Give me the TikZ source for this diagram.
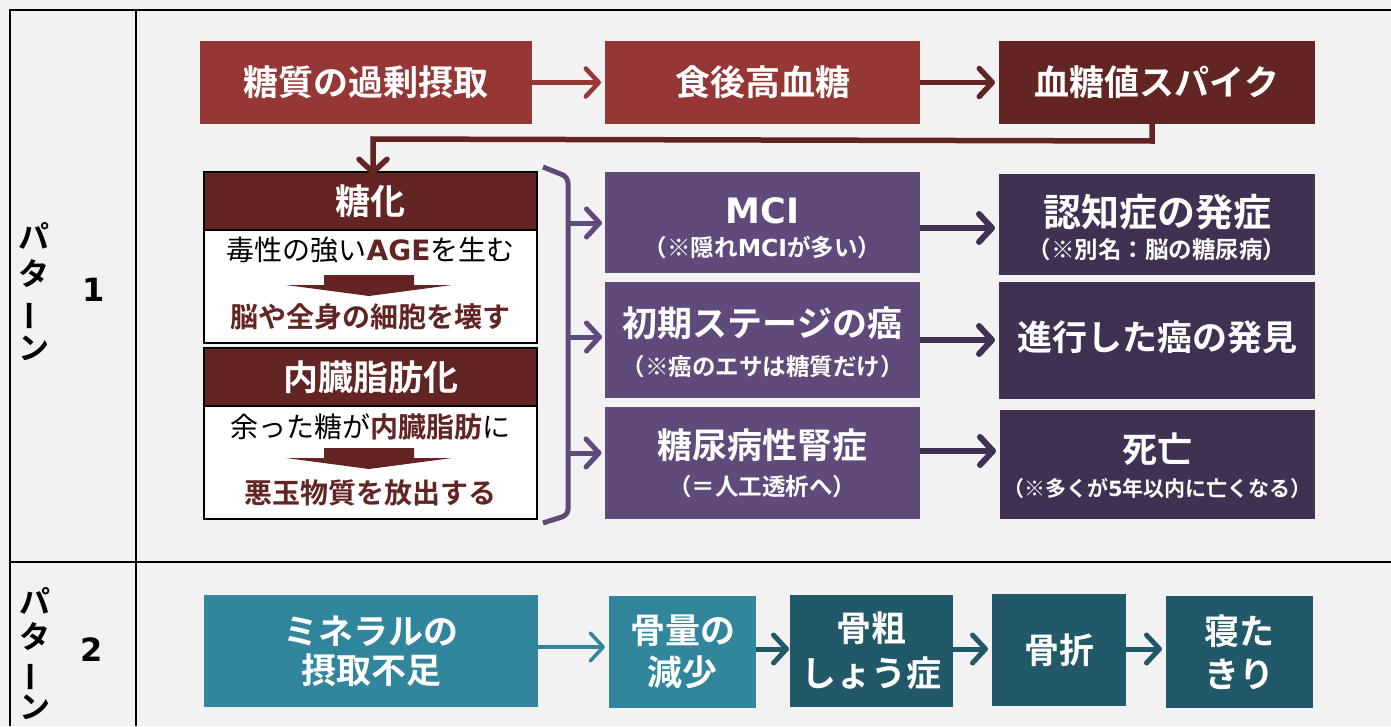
\documentclass[tikz,border=0pt]{standalone}
\usepackage{fontspec}
\usepackage{graphicx}
\setmainfont{Noto Sans CJK JP}[BoldFont={Noto Sans CJK JP Bold}]
\newfontfamily\lat{DejaVu Sans}[BoldFont={DejaVu Sans Bold}]
\usetikzlibrary{arrows.meta}
\definecolor{bgc}{HTML}{F2F2F2}
\definecolor{redA}{HTML}{953735}
\definecolor{redB}{HTML}{632523}
\definecolor{purA}{HTML}{604A7B}
\definecolor{purB}{HTML}{403152}
\definecolor{tealA}{HTML}{31859C}
\definecolor{tealB}{HTML}{215968}
\begin{document}
\begin{tikzpicture}[x=1pt,y=-1pt,
  box/.style={inner sep=0pt, outer sep=0pt, text=white, align=center},
  ttl/.style={font=\fontsize{35}{42}\selectfont\bfseries, text=white, inner sep=0pt, align=center},
  subt/.style={font=\fontsize{23.5}{28}\selectfont\bfseries, text=white, inner sep=0pt},
  body/.style={font=\fontsize{28}{32}\selectfont, text=black, inner sep=0pt},
  bodyred/.style={font=\fontsize{28}{32}\selectfont\bfseries, text=redB, inner sep=0pt},
  plabel/.style={font=\fontsize{31}{36}\selectfont\bfseries, text=black, inner sep=0pt, align=center},
  barb/.style={line width=#1, -{Straight Barb[length=13pt,width=28pt,round,line width=#1]}},
  tbl/.style={draw=black, line width=2.5pt}
]
\useasboundingbox[fill=bgc] (0,0) rectangle (1391,726);

% table lines
\draw[tbl] (1391,10) -- (10,10) -- (10,726);
\draw[tbl] (136,10) -- (136,726);
\draw[tbl] (10,562) -- (1391,562);

% pattern labels
\node[plabel, font=\fontsize{31}{37}\selectfont\bfseries] (pl1) at (34,292) {パ\\タ\\\rotatebox[origin=c]{90}{ー}\\ン};
\node[plabel, font=\fontsize{32}{36}\lat\bfseries] (pn1) at (94,290) {1};
\node[plabel, font=\fontsize{31}{35}\selectfont\bfseries] (pl2) at (35,654) {パ\\タ\\\rotatebox[origin=c]{90}{ー}\\ン};
\node[plabel, font=\fontsize{32}{36}\lat\bfseries] (pn2) at (92,650) {2};

% top row
\node[box, fill=redA, minimum width=332pt, minimum height=83pt, font=\fontsize{35}{42}\selectfont\bfseries] (b1) at (366,82.5) {糖質の過剰摂取};
\node[box, fill=redA, minimum width=315pt, minimum height=83pt, font=\fontsize{35}{42}\selectfont\bfseries] (b2) at (762.5,82.5) {食後高血糖};
\node[box, fill=redB, minimum width=316pt, minimum height=83pt, font=\fontsize{35}{42}\selectfont\bfseries] (b3) at (1157,82.5) {血糖値スパイク};
\draw[barb=4.5pt, draw=redA] (b1.east) -- ([xshift=-4pt]b2.west);
\draw[barb=5.5pt, draw=redB] (b2.east) -- ([xshift=-4pt]b3.west);

% left blocks
\node[box, fill=redB, draw=black, line width=1.2pt, minimum width=333pt, minimum height=58pt, font=\fontsize{35}{42}\selectfont\bfseries] (g1h) at (370.5,201) {糖化};
\node[box, fill=white, draw=black, line width=1.2pt, minimum width=333pt, minimum height=113pt] (g1b) at (370.5,286.5) {};
\node[box, fill=redB, draw=black, line width=1.2pt, minimum width=333pt, minimum height=58pt, font=\fontsize{35}{42}\selectfont\bfseries] (g2h) at (370.5,377) {内臓脂肪化};
\node[box, fill=white, draw=black, line width=1.2pt, minimum width=333pt, minimum height=113pt] (g2b) at (370.5,462.5) {};

\node[body] (g1t1) at (370.5,250) {毒性の強い{\lat\bfseries\color{redB}AGE}を生む};
\node[bodyred] (g1t2) at (370.5,317) {脳や全身の細胞を壊す};
\node[body] (g2t1) at (370.5,427) {余った糖が{\bfseries\color{redB}内臓脂肪}に};
\node[bodyred] (g2t2) at (370.5,493) {悪玉物質を放出する};

\fill[redB] (324,275) -- (414,275) -- (414,285) -- (452,285) -- (369,296) -- (286,285) -- (324,285) -- cycle;
\fill[redB] (324,448) -- (414,448) -- (414,458) -- (452,458) -- (369,469) -- (286,458) -- (324,458) -- cycle;

% connector from spike to glycation
\coordinate (c1) at (1152,141);
\coordinate (c2) at (373,139);
\draw[barb=5.5pt, draw=redB, line join=miter] ([xshift=-5pt]b3.south) -- (c1) -- (c2) -- ([yshift=-3pt]g1h.north -| c2);

% purple middle boxes
\node[box, fill=purA, minimum width=315pt, minimum height=101pt] (p1) at (762.5,222.5) {};
\node[box, fill=purA, minimum width=315pt, minimum height=116pt] (p2) at (762.5,340) {};
\node[box, fill=purA, minimum width=315pt, minimum height=112pt] (p3) at (762,463) {};
\node[ttl, font=\fontsize{35}{42}\lat\bfseries] (p1t) at (762.5,211) {MCI};
\node[subt] (p1s) at (762.5,247) {（※隠れ{\lat MCI}が多い）};
\node[ttl] (p2t) at (762.5,323) {初期ステージの癌};
\node[subt] (p2s) at (762.5,367) {（※癌のエサは糖質だけ）};
\node[ttl] (p3t) at (762,445) {糖尿病性腎症};
\node[subt] (p3s) at (762,487) {（＝人工透析へ）};

% dark purple right boxes
\node[box, fill=purB, minimum width=316pt, minimum height=101pt] (d1) at (1157,224.5) {};
\node[box, fill=purB, minimum width=316pt, minimum height=117pt] (d2) at (1157,340.5) {};
\node[box, fill=purB, minimum width=315pt, minimum height=109pt] (d3) at (1157.5,464.5) {};
\node[ttl, font=\fontsize{38}{44}\selectfont\bfseries] (d1t) at (1157,212) {認知症の発症};
\node[subt] (d1s) at (1157,250) {（※別名：脳の糖尿病）};
\node[ttl] (d2t) at (1157,337) {進行した癌の発見};
\node[ttl] (d3t) at (1157.5,449) {死亡};
\node[subt, font=\fontsize{21}{25}\selectfont\bfseries] (d3s) at (1157.5,488) {（※多くが{\lat 5}年以内に亡くなる）};

% bracket
\draw[purA, line width=5pt, rounded corners=6pt] ([xshift=6pt,yshift=5pt]g1h.north east) -- (568,177) -- (568,515) -- ([xshift=6pt,yshift=-4pt]g2b.south east);
\coordinate (k1) at (568,223);
\coordinate (k2) at (568,337);
\coordinate (k3) at (568,453);
\draw[barb=5pt, draw=purA] (k1) -- ([xshift=-3pt]p1.west |- k1);
\draw[barb=5pt, draw=purA] (k2) -- ([xshift=-3pt]p2.west |- k2);
\draw[barb=5pt, draw=purA] (k3) -- ([xshift=-3pt]p3.west |- k3);

% purple right arrows
\draw[barb=6pt, draw=purB] (p1.east |- 0,228) -- ([xshift=-4pt]d1.west |- 0,228);
\draw[barb=6pt, draw=purB] (p2.east |- 0,340) -- ([xshift=-4pt]d2.west |- 0,340);
\draw[barb=6pt, draw=purB] (p3.east |- 0,451) -- ([xshift=-4pt]d3.west |- 0,451);

% pattern 2 row
\node[box, fill=tealA, minimum width=334pt, minimum height=112pt, font=\fontsize{35}{39}\selectfont\bfseries] (t1) at (371,651) {ミネラルの\\摂取不足};
\node[box, fill=tealA, minimum width=147pt, minimum height=112pt, font=\fontsize{35}{42}\selectfont\bfseries] (t2) at (682.5,652) {骨量の\\減少};
\node[box, fill=tealB, minimum width=163pt, minimum height=112pt, font=\fontsize{35}{45}\selectfont\bfseries] (t3) at (871.5,651) {骨粗\\しょう症};
\node[box, fill=tealB, minimum width=134pt, minimum height=112pt, font=\fontsize{35}{42}\selectfont\bfseries] (t4) at (1059,650) {骨折};
\node[box, fill=tealB, minimum width=147pt, minimum height=112pt, font=\fontsize{35}{43}\selectfont\bfseries] (t5) at (1239.5,652) {寝た\\きり};
\draw[barb=3.5pt, draw=tealA] (t1.east |- 0,647) -- ([xshift=-4pt]t2.west |- 0,647);
\draw[barb=5pt, draw=tealB] (t2.east |- 0,649) -- ([xshift=-1pt]t3.west |- 0,649);
\draw[barb=5pt, draw=tealB] (t3.east |- 0,649) -- ([xshift=-4pt]t4.west |- 0,649);
\draw[barb=5pt, draw=tealB] (t4.east |- 0,649) -- ([xshift=-4pt]t5.west |- 0,649);
\end{tikzpicture}
\end{document}
